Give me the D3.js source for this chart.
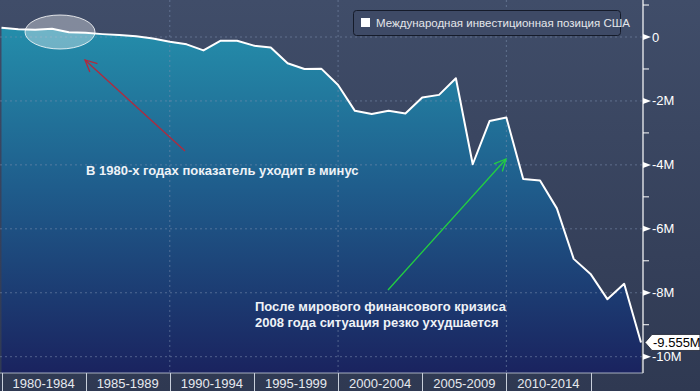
<!DOCTYPE html>
<html>
<head>
<meta charset="utf-8">
<script src="https://cdn.jsdelivr.net/npm/d3@7"></script>
<style>
  html, body { margin: 0; padding: 0; background: #3a4662; }
  svg { display: block; }
</style>
</head>
<body>
<div id="chart"></div>
<script>
(function(){
  'use strict';

  // years and net international investment position, millions of millions
  var years = d3.range(1980, 2019);
  var values = [0.29, 0.24, 0.23, 0.26, 0.15, 0.13, 0.09, 0.06, 0.02, -0.05,
                -0.15, -0.23, -0.42, -0.12, -0.12, -0.27, -0.33, -0.82, -1.00, -0.99,
                -1.50, -2.31, -2.41, -2.31, -2.39, -1.89, -1.81, -1.29, -3.98, -2.63,
                -2.52, -4.44, -4.49, -5.36, -6.94, -7.41, -8.20, -7.72, -9.555];
  var bandStarts = [1980, 1985, 1990, 1995, 2000, 2005, 2010];
  var bandLabels = ['1980-1984', '1985-1989', '1990-1994', '1995-1999', '2000-2004', '2005-2009', '2010-2014'];
  var majorTicks = [0, -2, -4, -6, -8, -10];
  var majorLabels = ['0', '-2M', '-4M', '-6M', '-8M', '-10M'];
  var minorTicks = [1, -1, -3, -5, -7, -9];
  var gridYears = [1990, 2000, 2010];
  var legendText = 'Международная инвестиционная позиция США';
  var lastLabel = '-9.555M';

  var width = 700, height = 391;
  var plotRight = 643, plotBottom = 373;

  var x = d3.scaleLinear().domain([1980, 2018]).range([1.5, 641]);
  var y = d3.scaleLinear().domain([0, -10]).range([37, 356.7]);

  var svg = d3.select('#chart').append('svg')
    .attr('width', width)
    .attr('height', height);

  var defs = svg.append('defs');
  var bg = defs.append('linearGradient').attr('id', 'bg')
    .attr('x1', 0).attr('y1', 0).attr('x2', 0).attr('y2', 1);
  bg.append('stop').attr('offset', '0%').attr('stop-color', '#404d69');
  bg.append('stop').attr('offset', '100%').attr('stop-color', '#2f3952');

  var fill = defs.append('linearGradient').attr('id', 'fill')
    .attr('gradientUnits', 'userSpaceOnUse')
    .attr('x1', 0).attr('y1', 0).attr('x2', 0).attr('y2', plotBottom);
  fill.append('stop').attr('offset', '0%').attr('stop-color', '#2596b0');
  fill.append('stop').attr('offset', '50%').attr('stop-color', '#1f5d8c');
  fill.append('stop').attr('offset', '100%').attr('stop-color', '#1a235f');

  svg.append('rect').attr('width', width).attr('height', height).attr('fill', 'url(#bg)');

  var data = years.map(function(d, i) { return { year: d, value: values[i] }; });

  // area + line
  var area = d3.area()
    .x(function(d) { return x(d.year); })
    .y0(plotBottom)
    .y1(function(d) { return y(d.value); });
  var line = d3.line()
    .x(function(d) { return x(d.year); })
    .y(function(d) { return y(d.value); });

  svg.append('path').datum(data)
    .attr('d', area)
    .attr('fill', 'url(#fill)');

  // grid (dotted)
  svg.selectAll('line.hgrid').data(majorTicks).enter()
    .append('line')
    .attr('x1', 0).attr('x2', plotRight)
    .attr('y1', function(d) { return y(d); })
    .attr('y2', function(d) { return y(d); })
    .attr('stroke', '#7d8fae').attr('stroke-opacity', 0.55)
    .attr('stroke-dasharray', '2,3');
  svg.selectAll('line.vgrid').data(gridYears).enter()
    .append('line')
    .attr('x1', function(d) { return x(d); })
    .attr('x2', function(d) { return x(d); })
    .attr('y1', 0).attr('y2', plotBottom)
    .attr('stroke', '#7d8fae').attr('stroke-opacity', 0.55)
    .attr('stroke-dasharray', '2,3');

  svg.append('path').datum(data)
    .attr('d', line)
    .attr('fill', 'none')
    .attr('stroke', '#ffffff')
    .attr('stroke-width', 2)
    .attr('stroke-linejoin', 'round');

  // right axis
  svg.append('line')
    .attr('x1', plotRight).attr('x2', plotRight)
    .attr('y1', 0).attr('y2', plotBottom)
    .attr('stroke', '#ffffff').attr('stroke-width', 1.2);
  svg.append('line')
    .attr('x1', 0).attr('x2', plotRight)
    .attr('y1', plotBottom).attr('y2', plotBottom)
    .attr('stroke', '#c8cfdb').attr('stroke-width', 0.8);

  svg.selectAll('line.minor').data(minorTicks).enter()
    .append('line')
    .attr('x1', plotRight).attr('x2', plotRight + 6)
    .attr('y1', function(d) { return y(d); })
    .attr('y2', function(d) { return y(d); })
    .attr('stroke', '#ffffff');

  svg.selectAll('path.major').data(majorTicks).enter()
    .append('path')
    .attr('d', function(d) {
      var ty = y(d);
      return 'M' + plotRight + ',' + (ty - 3) + 'L' + (plotRight + 8) + ',' + ty + 'L' + plotRight + ',' + (ty + 3) + 'Z';
    })
    .attr('fill', '#ffffff');

  svg.selectAll('text.ylab').data(majorTicks).enter()
    .append('text')
    .attr('x', plotRight + 9)
    .attr('y', function(d) { return y(d) + 4.5; })
    .attr('fill', '#ffffff')
    .style('font-family', 'Liberation Sans, Arial, sans-serif')
    .style('font-size', '13px')
    .text(function(d, i) { return majorLabels[i]; });

  // last value tag
  var lastY = y(values[values.length - 1]);
  svg.append('path')
    .attr('d', 'M' + (plotRight + 2) + ',' + lastY + 'L' + (plotRight + 9) + ',' + (lastY - 8) +
      'L700,' + (lastY - 8) + 'L700,' + (lastY + 8) + 'L' + (plotRight + 9) + ',' + (lastY + 8) + 'Z')
    .attr('fill', '#ffffff').attr('stroke', '#1a2030').attr('stroke-width', 0.8);
  svg.append('text')
    .attr('x', plotRight + 10)
    .attr('y', lastY + 4.5)
    .attr('fill', '#000000')
    .style('font-family', 'Liberation Sans, Arial, sans-serif')
    .style('font-size', '13px')
    .text(lastLabel);

  // bottom band axis
  svg.selectAll('line.sep').data(bandStarts.concat([2015])).enter()
    .append('line')
    .attr('x1', function(d) { return Math.round(x(d)) + 0.5; })
    .attr('x2', function(d) { return Math.round(x(d)) + 0.5; })
    .attr('y1', plotBottom).attr('y2', height)
    .attr('stroke', '#c8cfdb').attr('stroke-width', 1);

  svg.selectAll('text.xlab').data(bandStarts).enter()
    .append('text')
    .attr('x', function(d) { return (x(d) + x(d + 5)) / 2; })
    .attr('y', 388)
    .attr('text-anchor', 'middle')
    .attr('fill', '#e6e9ef')
    .style('font-family', 'Liberation Sans, Arial, sans-serif')
    .style('font-size', '13px')
    .text(function(d, i) { return bandLabels[i]; });

  // legend
  var legend = svg.append('g');
  legend.append('rect')
    .attr('x', 353.5).attr('y', 10.5).attr('width', 267).attr('height', 25)
    .attr('rx', 3)
    .attr('fill', '#3e4a66').attr('stroke', '#151b2a').attr('stroke-width', 1);
  legend.append('rect')
    .attr('x', 361).attr('y', 18).attr('width', 9).attr('height', 9)
    .attr('fill', '#ffffff');
  legend.append('text')
    .attr('x', 376).attr('y', 27)
    .attr('fill', '#e4e6ea')
    .style('font-family', 'Liberation Sans, Arial, sans-serif')
    .style('font-size', '11.5px')
    .text(legendText);

  // annotations
  svg.append('ellipse')
    .attr('cx', 60).attr('cy', 32).attr('rx', 35).attr('ry', 17)
    .attr('fill', '#ffffff').attr('fill-opacity', 0.35)
    .attr('stroke', '#ffffff').attr('stroke-opacity', 0.8).attr('stroke-width', 1);

  function arrow(x1, y1, x2, y2, color) {
    var ang = Math.atan2(y2 - y1, x2 - x1);
    var len = 13, spread = 0.45;
    svg.append('line')
      .attr('x1', x1).attr('y1', y1).attr('x2', x2).attr('y2', y2)
      .attr('stroke', color).attr('stroke-width', 1.3);
    svg.append('path')
      .attr('d', 'M' + (x2 - len * Math.cos(ang - spread)) + ',' + (y2 - len * Math.sin(ang - spread)) +
        'L' + x2 + ',' + y2 +
        'L' + (x2 - len * Math.cos(ang + spread)) + ',' + (y2 - len * Math.sin(ang + spread)))
      .attr('fill', 'none').attr('stroke', color).attr('stroke-width', 1.3);
  }
  arrow(185, 151, 85, 60, '#b3293c');
  arrow(388, 290, 506, 159, '#22d040');

  var notes = [
    { x: 86, y: 175, t: 'В 1980-х годах показатель уходит в минус' },
    { x: 255, y: 311, t: 'После мирового финансового кризиса' },
    { x: 255, y: 327, t: '2008 года ситуация резко ухудшается' }
  ];
  svg.selectAll('text.note').data(notes).enter()
    .append('text')
    .attr('x', function(d) { return d.x; })
    .attr('y', function(d) { return d.y; })
    .attr('fill', '#eef2f7')
    .style('font-family', 'Liberation Sans, Arial, sans-serif')
    .style('font-size', '13px')
    .style('font-weight', 'bold')
    .text(function(d) { return d.t; });
})();
</script>
</body>
</html>
